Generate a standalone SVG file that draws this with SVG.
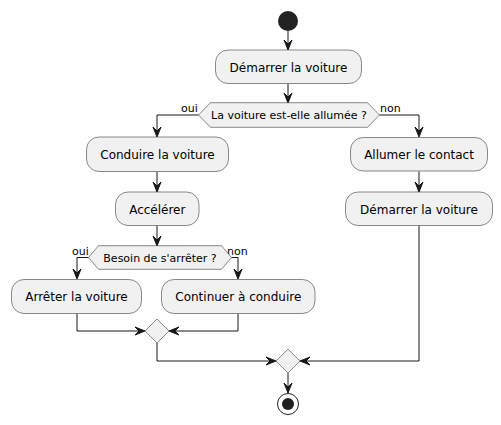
<svg xmlns="http://www.w3.org/2000/svg" width="501" height="425" viewBox="0 0 501 425">
<style>
.box{fill:#F1F1F1;stroke:#181818;stroke-width:0.5}
.t{font-family:"DejaVu Sans",sans-serif;font-size:12px;fill:#000;text-anchor:middle}
.d{font-family:"DejaVu Sans",sans-serif;font-size:11px;fill:#000;text-anchor:middle}
.l{font-family:"DejaVu Sans",sans-serif;font-size:11px;fill:#000}
.c{fill:none;stroke:#181818;stroke-width:1}
.ah{fill:#181818;stroke:#181818;stroke-width:1}
</style>
<defs>
<polygon id="ad" points="-4,-10 0,0 4,-10 0,-6"/>
<polygon id="ar" points="-10,-4 0,0 -10,4 -6,0"/>
<polygon id="al" points="10,-4 0,0 10,4 6,0"/>
</defs>
<rect width="501" height="425" fill="#FFFFFF"/>
<g id="connectors">
<path class="c" d="M288,31 V49"/><use href="#ad" class="ah" x="288" y="50"/>
<path class="c" d="M288,83.5 V102"/><use href="#ad" class="ah" x="288" y="103"/>
<path class="c" d="M198.5,115 H157 V136"/><use href="#ad" class="ah" x="157" y="137"/>
<path class="c" d="M379.5,115 H419 V136"/><use href="#ad" class="ah" x="419" y="137"/>
<path class="c" d="M157,171.5 V191"/><use href="#ad" class="ah" x="157" y="192"/>
<path class="c" d="M157,225.5 V245"/><use href="#ad" class="ah" x="157" y="246"/>
<path class="c" d="M88.5,257.5 H77 V278"/><use href="#ad" class="ah" x="77" y="279"/>
<path class="c" d="M231.5,257.5 H238 V278"/><use href="#ad" class="ah" x="238" y="279"/>
<path class="c" d="M419,171.5 V191"/><use href="#ad" class="ah" x="419" y="192"/>
<path class="c" d="M77,313.5 V331 H144"/><use href="#ar" class="ah" x="145" y="331"/>
<path class="c" d="M238,313.5 V331 H170"/><use href="#al" class="ah" x="169" y="331"/>
<path class="c" d="M157,343 V361 H275"/><use href="#ar" class="ah" x="276" y="361"/>
<path class="c" d="M419,225.5 V361 H301"/><use href="#al" class="ah" x="300" y="361"/>
<path class="c" d="M288,373 V392"/><use href="#ad" class="ah" x="288" y="393"/>
<text class="l" x="181" y="112">oui</text>
<text class="l" x="380" y="112">non</text>
<text class="l" x="72" y="255">oui</text>
<text class="l" x="227" y="255">non</text>
</g>
<g id="start"><circle cx="288" cy="21" r="10" fill="#222222"/></g>
<g id="demarrer1"><rect class="box" x="215.5" y="50" width="146" height="33.5" rx="12.5"/><text class="t" x="288.5" y="71.5">Démarrer la voiture</text></g>
<g id="decision1"><polygon class="box" points="198.5,115 210.5,102.7 367.5,102.7 379.5,115 367.5,127.3 210.5,127.3"/><text class="d" x="289" y="119">La voiture est-elle allumée ?</text></g>
<g id="conduire"><rect class="box" x="86.5" y="137" width="142" height="34.5" rx="12.5"/><text class="t" x="157.5" y="159">Conduire la voiture</text></g>
<g id="accelerer"><rect class="box" x="115.5" y="192" width="83.5" height="33.5" rx="12.5"/><text class="t" x="157.3" y="213.5">Accélérer</text></g>
<g id="decision2"><polygon class="box" points="88.5,257.5 98.5,245.7 221.5,245.7 231.5,257.5 221.5,269.3 98.5,269.3"/><text class="d" x="160" y="261.5">Besoin de s'arrêter ?</text></g>
<g id="arreter"><rect class="box" x="11.5" y="279.5" width="130" height="34" rx="12.5"/><text class="t" x="76.5" y="301">Arrêter la voiture</text></g>
<g id="continuer"><rect class="box" x="161.5" y="279.5" width="153.5" height="34" rx="12.5"/><text class="t" x="238.3" y="301">Continuer à conduire</text></g>
<g id="allumer"><rect class="box" x="350.5" y="137.5" width="137" height="33.5" rx="12.5"/><text class="t" x="419" y="159">Allumer le contact</text></g>
<g id="demarrer2"><rect class="box" x="345.5" y="192" width="147" height="33.5" rx="12.5"/><text class="t" x="419" y="213.5">Démarrer la voiture</text></g>
<g id="merge1"><polygon class="box" points="157,319 169,331 157,343 145,331"/></g>
<g id="merge2"><polygon class="box" points="288,349 300,361 288,373 276,361"/></g>
<g id="end"><circle cx="288" cy="404" r="10.5" fill="none" stroke="#222222" stroke-width="1"/><circle cx="288" cy="404" r="6" fill="#222222"/></g>
</svg>
